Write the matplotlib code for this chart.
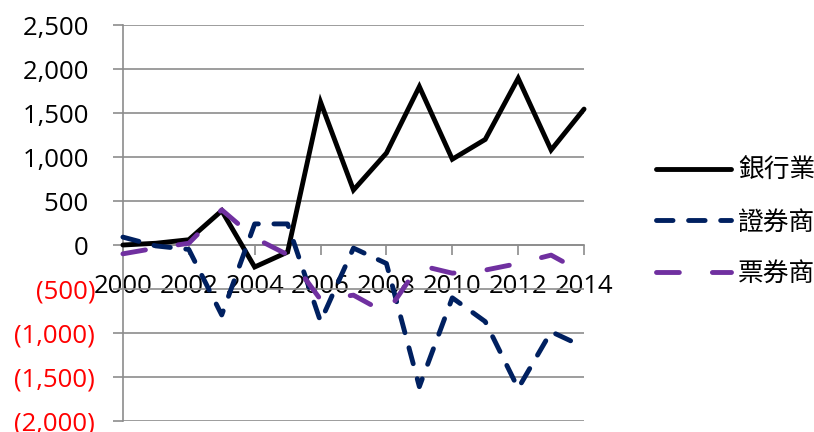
import matplotlib
matplotlib.use('Agg')
import matplotlib.pyplot as plt
from matplotlib.ticker import FuncFormatter, MultipleLocator

plt.rcParams['font.family'] = ['Open Sans', 'Noto Sans CJK TC', 'DejaVu Sans']

# 資料
years = list(range(2000, 2015))
bank = [0, 20, 60, 390, -250, -80, 1625, 625, 1045, 1800, 975, 1200, 1895, 1080, 1545]
securities = [90, -10, -50, -795, 240, 240, -870, -35, -210, -1610, -600, -870, -1630, -985, -1160]
bills = [-100, -35, 20, 400, 80, -110, -620, -570, -775, -230, -320, -285, -210, -115, -320]
labels = ['銀行業', '證券商', '票券商']

fig = plt.figure(figsize=(8.14, 4.32), dpi=100)
ax = fig.add_axes([0.151, 0.0255, 0.5665, 0.9165])

lw = 3.5
ax.plot(years, bank, color='black', lw=lw, solid_capstyle='round',
        solid_joinstyle='miter', label=labels[0], clip_on=False, zorder=3)
ax.plot(years, securities, color='#002060', lw=lw, dashes=(3.4, 3.2),
        dash_capstyle='round', label=labels[1], clip_on=False, zorder=3)
ax.plot(years, bills, color='#7030A0', lw=lw, dashes=(4.7, 6.8),
        dash_capstyle='round', label=labels[2], clip_on=False, zorder=3)

ax.set_xlim(2000, 2014)
ax.set_ylim(-2000, 2500)
ax.yaxis.set_major_locator(MultipleLocator(500))
ax.set_xticks(years[::2])


def fmt(v, pos):
    if v < 0:
        return '({:,.0f})'.format(-v)
    return '{:,.0f} '.format(v)


ax.yaxis.set_major_formatter(FuncFormatter(fmt))
ax.grid(axis='y', color='#8c8c8c', lw=1.2, zorder=0)

for s in ['top', 'right']:
    ax.spines[s].set_visible(False)
ax.spines['left'].set_color('#8c8c8c')
ax.spines['left'].set_linewidth(1.2)
ax.spines['bottom'].set_position(('data', 0))
ax.spines['bottom'].set_color('#8c8c8c')
ax.spines['bottom'].set_linewidth(1.2)

ax.tick_params(axis='y', length=7, width=1.2, color='#8c8c8c', labelsize=18.5, pad=13)
ax.tick_params(axis='x', length=7, width=1.2, color='#8c8c8c', labelsize=18.5, pad=14)

for t in ax.get_yticklabels():
    if t.get_text().startswith('('):
        t.set_color('red')

ax.legend(loc='center left', bbox_to_anchor=(0.806, 0.484), bbox_transform=fig.transFigure,
          frameon=False, fontsize=18.5, handlelength=2.9, handletextpad=0.3,
          labelspacing=1.02, borderpad=0, borderaxespad=0)

fig.savefig('out.png', dpi=100)
